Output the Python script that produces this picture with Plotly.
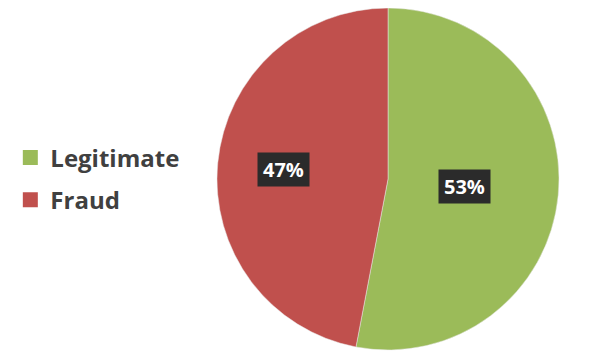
import math
import plotly.graph_objects as go

categories = ["Legitimate", "Fraud"]
values = [53, 47]
colors = ["#9BBB59", "#C0504D"]

OFF = 8                      # default page body margin
W, H = 590 - OFF, 353 - OFF  # figure size
cx, cy, R = 388 - OFF, 179 - OFF, 171  # pie centre/radius in figure pixels

fig = go.Figure()
fig.add_trace(go.Pie(
    labels=categories,
    values=values,
    marker=dict(colors=colors, line=dict(color="#e8e8e8", width=0.5)),
    sort=False,
    direction="clockwise",
    rotation=0,
    textinfo="none",
    hoverinfo="label+percent",
    showlegend=False,
    domain=dict(x=[(cx - R) / W, (cx + R) / W], y=[(H - cy - R) / H, (H - cy + R) / H]),
))

# legend entries (square swatches) for each category
for name, col in zip(categories, colors):
    fig.add_trace(go.Scatter(
        x=[None], y=[None], mode="markers", name=name, legendgroup=name,
        marker=dict(symbol="square", size=15, color=col),
        hoverinfo="skip",
    ))

# percentage labels placed at slice mid-angles (derived from data)
total = sum(values)
radial_frac = [0.45, 0.615]
start = 0.0
for v, rf in zip(values, radial_frac):
    mid = start + v / total * 360 / 2
    start += v / total * 360
    ang = math.radians(mid)
    px = cx + rf * R * math.sin(ang)
    py = cy - rf * R * math.cos(ang)
    fig.add_annotation(
        x=px / W, y=1 - py / H, xref="paper", yref="paper",
        xanchor="center", yanchor="middle",
        text=f"<b>&#8202;{round(v / total * 100)}%&#8202;</b>", showarrow=False,
        font=dict(family="Open Sans", size=20, color="white"),
        bgcolor="#2b2b2b", borderpad=3,
    )

fig.update_layout(
    width=W, height=H,
    margin=dict(l=0, r=0, t=0, b=0),
    paper_bgcolor="white",
    plot_bgcolor="rgba(0,0,0,0)",
    xaxis=dict(visible=False),
    yaxis=dict(visible=False),
    showlegend=True,
    legend=dict(
        x=0.004, y=1 - 171 / H, xanchor="left", yanchor="middle",
        font=dict(family="Open Sans", size=24, color="#404040", weight="bold"),
        bgcolor="rgba(0,0,0,0)",
        tracegroupgap=8,
    ),
)

fig.write_html("out.html")
